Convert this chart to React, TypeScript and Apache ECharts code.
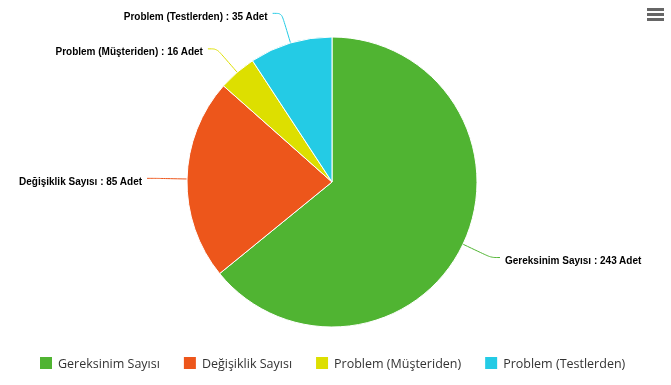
import React, { useEffect, useRef } from "react";
import * as echarts from "echarts";

const categories = ["Gereksinim Sayısı", "Değişiklik Sayısı", "Problem (Müşteriden)", "Problem (Testlerden)"];
const values = [243, 85, 16, 35];
const colors = ["#50B432", "#ED561B", "#DDDF00", "#24CBE5"];

export default function App() {
  const ref = useRef<HTMLDivElement>(null);
  useEffect(() => {
    const chart = echarts.init(ref.current!, undefined, { renderer: "svg" });
    chart.setOption({
      animation: false,
      color: colors,
      legend: {
        bottom: 9,
        left: 33,
        itemWidth: 14,
        itemHeight: 14,
        itemGap: 22,
        icon: "rect",
        textStyle: { fontFamily: "Open Sans", fontSize: 12.5, color: "#333" },
        data: categories,
      },
      graphic: [
        { type: "rect", shape: { x: 647, y: 8, width: 17, height: 3 }, style: { fill: "#666" } },
        { type: "rect", shape: { x: 647, y: 13, width: 17, height: 3 }, style: { fill: "#666" } },
        { type: "rect", shape: { x: 647, y: 18, width: 17, height: 3 }, style: { fill: "#666" } },
      ],
      series: [
        {
          type: "pie",
          center: [332, 182],
          radius: [0, 145],
          startAngle: 90,
          clockwise: true,
          avoidLabelOverlap: false,
          itemStyle: { borderColor: "#fff", borderWidth: 1 },
          label: {
            show: true,
            formatter: "{t|{b} : {c} Adet}",
            color: "#000",
            distanceToLabelLine: 5,
            rich: {
              t: {
                fontFamily: "Liberation Sans",
                fontWeight: "bold",
                fontSize: 10,
                color: "#000",
                padding: [6, 0, 0, 0],
              },
            },
          },
          labelLine: { show: true, length: 31, length2: 9, smooth: 0.3, lineStyle: { width: 1 } },
          data: categories.map((c, i) => ({ name: c, value: values[i] })),
        },
      ],
    });
    return () => chart.dispose();
  }, []);
  return <div ref={ref} style={{ position: "fixed", left: 0, top: 0, width: 671, height: 385 }} />;
}
